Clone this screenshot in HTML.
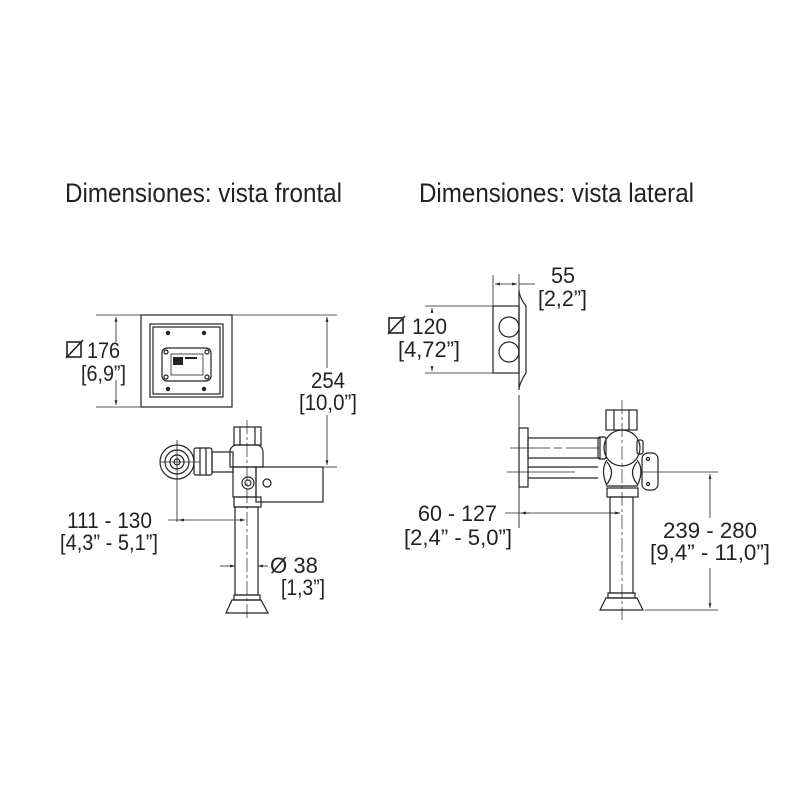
<!DOCTYPE html>
<html><head><meta charset="utf-8"><style>body{margin:0;background:#fff}svg{display:block}</style></head>
<body>
<svg width="800" height="800" viewBox="0 0 800 800" xmlns="http://www.w3.org/2000/svg" font-family="Liberation Sans, sans-serif" fill="none" stroke="#222" stroke-width="1.2">
<defs>
<marker id="a" viewBox="0 0 10 10" refX="10" refY="5" markerWidth="6" markerHeight="6" orient="auto-start-reverse"><path d="M0,2 L10,5 L0,8" fill="#222" stroke="none"/></marker>
</defs>
<g fill="#222" stroke="none" font-size="27">
<text x="65" y="202" textLength="277" lengthAdjust="spacingAndGlyphs">Dimensiones: vista frontal</text>
<text x="419" y="202" textLength="275" lengthAdjust="spacingAndGlyphs">Dimensiones: vista lateral</text>
</g>
<g fill="#222" stroke="none" font-size="22.5">
<text x="87" y="358" textLength="33" lengthAdjust="spacingAndGlyphs">176</text>
<text x="81" y="381" textLength="45" lengthAdjust="spacingAndGlyphs">[6,9”]</text>
<text x="311" y="388" textLength="34" lengthAdjust="spacingAndGlyphs">254</text>
<text x="299" y="410" textLength="58" lengthAdjust="spacingAndGlyphs">[10,0”]</text>
<text x="67" y="528" textLength="85" lengthAdjust="spacingAndGlyphs">111 - 130</text>
<text x="60" y="550" textLength="98" lengthAdjust="spacingAndGlyphs">[4,3” - 5,1”]</text>
<text x="270" y="573" textLength="48" lengthAdjust="spacingAndGlyphs">Ø 38</text>
<text x="281" y="595" textLength="44" lengthAdjust="spacingAndGlyphs">[1,3”]</text>
<text x="551" y="283" textLength="24" lengthAdjust="spacingAndGlyphs">55</text>
<text x="538" y="306" textLength="49" lengthAdjust="spacingAndGlyphs">[2,2”]</text>
<text x="412" y="334" textLength="35" lengthAdjust="spacingAndGlyphs">120</text>
<text x="398" y="357" textLength="62" lengthAdjust="spacingAndGlyphs">[4,72”]</text>
<text x="418" y="521" textLength="79" lengthAdjust="spacingAndGlyphs">60 - 127</text>
<text x="404" y="545" textLength="108" lengthAdjust="spacingAndGlyphs">[2,4” - 5,0”]</text>
<text x="663" y="538" textLength="94" lengthAdjust="spacingAndGlyphs">239 - 280</text>
<text x="650" y="560" textLength="120" lengthAdjust="spacingAndGlyphs">[9,4” - 11,0”]</text>
</g>
<g stroke-width="1.6">
<rect x="67" y="342" width="14" height="15"/><line x1="66" y1="358" x2="83" y2="340"/>
<rect x="389" y="318" width="14" height="15"/><line x1="388" y1="334" x2="405" y2="316"/>
</g>
<!-- front view -->
<rect x="141" y="315" width="91" height="92"/>
<rect x="150" y="324" width="73" height="73"/>
<rect x="153" y="327" width="67" height="67"/>
<rect x="162" y="348" width="49" height="33" rx="5"/>
<rect x="171" y="354" width="32" height="21" stroke-width="0.8"/>
<g fill="#222" stroke="none"><circle cx="168" cy="333" r="2.2"/><circle cx="204" cy="333" r="2.2"/><circle cx="168" cy="389" r="2.2"/><circle cx="204" cy="389" r="2.2"/>
<rect x="173" y="357" width="10" height="8"/><rect x="185" y="357" width="12" height="2"/></g>
<circle cx="166" cy="352" r="2"/><circle cx="207" cy="352" r="2"/><circle cx="166" cy="377" r="2"/><circle cx="207" cy="377" r="2"/>
<line x1="96" y1="315" x2="141" y2="315" stroke-width="0.8"/>
<line x1="96" y1="407" x2="141" y2="407" stroke-width="0.8"/>
<line x1="116" y1="317" x2="116" y2="342" stroke-width="0.8" marker-start="url(#a)"/>
<line x1="116" y1="380" x2="116" y2="405" stroke-width="0.8" marker-end="url(#a)"/>
<line x1="232" y1="315" x2="337" y2="315" stroke-width="0.8"/>
<line x1="322" y1="467" x2="337" y2="467" stroke-width="0.8"/>
<line x1="327" y1="317" x2="327" y2="368" stroke-width="0.8" marker-start="url(#a)"/>
<line x1="327" y1="415" x2="327" y2="465" stroke-width="0.8" marker-end="url(#a)"/>
<!-- valve front -->
<rect x="234" y="427" width="27" height="18"/>
<line x1="240" y1="427" x2="240" y2="445"/><line x1="255" y1="427" x2="255" y2="445"/>
<path d="M230,450 Q232,445 237,445 L258,445 Q263,447 263,452 L263,467 L230,467 Z"/>
<rect x="256" y="467" width="67" height="35"/>
<circle cx="267" cy="483" r="4"/>
<rect x="233" y="467" width="23" height="30"/>
<circle cx="248" cy="483" r="6"/><circle cx="248" cy="483" r="3"/>
<rect x="234" y="497" width="27" height="10"/>
<rect x="235" y="507" width="23" height="88"/>
<rect x="234" y="595" width="26" height="5"/>
<path d="M232,600 L261,600 L268,613 L226,613 Z"/>
<circle cx="177" cy="462" r="17"/><circle cx="177" cy="462" r="12"/><circle cx="177" cy="462" r="7"/><circle cx="177" cy="462" r="3"/>
<rect x="194" y="448" width="18" height="27" rx="2"/>
<line x1="200" y1="448" x2="200" y2="475"/><line x1="206" y1="448" x2="206" y2="475"/>
<rect x="212" y="452" width="21" height="20"/>
<line x1="160" y1="462" x2="200" y2="462" stroke-width="0.7"/>
<line x1="177" y1="440" x2="177" y2="522" stroke-width="0.8"/>
<line x1="247" y1="420" x2="247" y2="618" stroke-width="0.7" stroke-dasharray="14,3,3,3"/>
<line x1="168" y1="520" x2="245" y2="520" stroke-width="0.8" marker-end="url(#a)"/>
<line x1="179" y1="520" x2="185" y2="520" stroke-width="0.8" marker-start="url(#a)"/>
<line x1="220" y1="566" x2="235" y2="566" stroke-width="0.8" marker-end="url(#a)"/>
<line x1="258" y1="566" x2="268" y2="566" stroke-width="0.8" marker-start="url(#a)"/>
<!-- side view -->
<rect x="493" y="306" width="26" height="67"/>
<path d="M519,292 Q521,300 526,306 L526,373 Q521,380 519,388"/>
<line x1="519" y1="290" x2="519" y2="390"/>
<circle cx="509" cy="327" r="10"/><circle cx="509" cy="352" r="10"/>
<line x1="493" y1="275" x2="493" y2="306" stroke-width="0.8"/>
<line x1="519" y1="274" x2="519" y2="290" stroke-width="0.8"/>
<line x1="495" y1="284" x2="517" y2="284" stroke-width="0.8" marker-start="url(#a)" marker-end="url(#a)"/>
<line x1="519" y1="284" x2="535" y2="284" stroke-width="0.8"/>
<line x1="425" y1="306" x2="493" y2="306" stroke-width="0.8"/>
<line x1="425" y1="373" x2="493" y2="373" stroke-width="0.8"/>
<line x1="432" y1="308" x2="432" y2="313" stroke-width="0.8" marker-start="url(#a)"/>
<line x1="432" y1="366" x2="432" y2="371" stroke-width="0.8" marker-end="url(#a)"/>
<line x1="519" y1="395" x2="519" y2="528" stroke-width="0.9"/>
<rect x="519" y="428" width="9" height="59"/>
<rect x="528" y="438" width="72" height="20"/>
<line x1="528" y1="467" x2="598" y2="467"/><line x1="528" y1="478" x2="598" y2="478"/>
<line x1="510" y1="448" x2="600" y2="448" stroke-width="0.7" stroke-dasharray="40,4,8,4"/>
<line x1="507" y1="472" x2="575" y2="472" stroke-width="0.7"/>
<rect x="606" y="410" width="31" height="20"/>
<line x1="614" y1="410" x2="614" y2="430"/><line x1="629" y1="410" x2="629" y2="430"/>
<circle cx="622" cy="448" r="18"/>
<rect x="598" y="437" width="8" height="22" rx="2"/>
<rect x="637" y="440" width="6" height="14" rx="2"/>
<path d="M607,460 Q600,470 607,486 L637,486 Q645,470 637,460"/>
<path d="M607,462 Q616,472 607,484"/><path d="M637,462 Q628,472 637,484"/>
<rect x="642" y="453" width="16" height="37" rx="6"/>
<circle cx="648" cy="459" r="1.5"/><circle cx="648" cy="484" r="1.5"/>
<rect x="607" y="488" width="31" height="9"/>
<rect x="610" y="497" width="23" height="96"/>
<rect x="608" y="593" width="27" height="5"/>
<path d="M606,598 L637,598 L643,610 L600,610 Z"/>
<line x1="622" y1="400" x2="622" y2="620" stroke-width="0.7" stroke-dasharray="14,3,3,3"/>
<line x1="640" y1="472" x2="718" y2="472" stroke-width="0.8"/>
<line x1="645" y1="610" x2="718" y2="610" stroke-width="0.8"/>
<line x1="710" y1="474" x2="710" y2="518" stroke-width="0.8" marker-start="url(#a)"/>
<line x1="710" y1="568" x2="710" y2="608" stroke-width="0.8" marker-end="url(#a)"/>
<line x1="505" y1="513" x2="620" y2="513" stroke-width="0.8"/>
<line x1="521" y1="513" x2="530" y2="513" stroke-width="0.8" marker-start="url(#a)"/>
<line x1="610" y1="513" x2="620" y2="513" stroke-width="0.8" marker-end="url(#a)"/>
</svg>
</body></html>
